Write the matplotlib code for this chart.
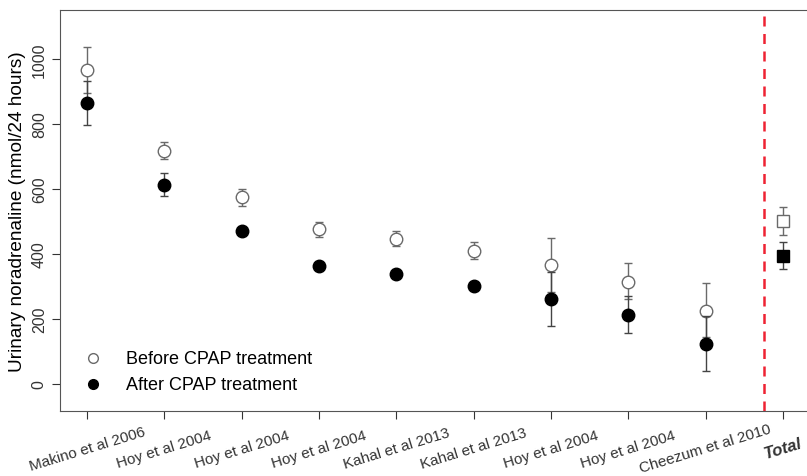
import matplotlib
matplotlib.use("Agg")
import matplotlib.pyplot as plt

plt.rcParams['font.family'] = ['Liberation Sans', 'DejaVu Sans']

# study labels along the x axis
studies = ["Makino et al 2006", "Hoy et al 2004", "Hoy et al 2004", "Hoy et al 2004",
           "Kahal et al 2013", "Kahal et al 2013", "Hoy et al 2004", "Hoy et al 2004",
           "Cheezum et al 2010", "Total"]

# before CPAP: mean, lower, upper (nmol/24 hours)
before_mean = [965, 717, 575, 477, 446, 410, 366, 314, 225, 501]
before_low = [895, 692, 548, 452, 425, 385, 283, 262, 145, 458]
before_high = [1037, 745, 600, 500, 470, 437, 450, 372, 311, 545]

# after CPAP
after_mean = [866, 612, 471, 363, 340, 302, 262, 212, 123, 394]
after_low = [797, 578, 465, 358, 335, 297, 178, 157, 40, 354]
after_high = [932, 649, 478, 368, 345, 307, 346, 271, 209, 437]

fig = plt.figure(figsize=[8.07, 4.77], dpi=100)
ax = fig.add_axes([0.0743, 0.1363, 0.9257, 0.8407])

n = len(studies)
xs = list(range(1, n + 1))
grey = "#6a6a6a"

for i, x in enumerate(xs):
    total = (i == n - 1)
    mk = "s" if total else "o"
    # before: open grey marker
    ax.errorbar(x, before_mean[i],
                yerr=[[before_mean[i] - before_low[i]], [before_high[i] - before_mean[i]]],
                fmt=mk, mfc="white", mec=grey, ms=9 if not total else 8, mew=1.0,
                ecolor=grey, elinewidth=1.0, capsize=3, capthick=1.0, zorder=3)
    # after: filled black marker
    ax.errorbar(x, after_mean[i],
                yerr=[[after_mean[i] - after_low[i]], [after_high[i] - after_mean[i]]],
                fmt=mk, mfc="black", mec="black", ms=9 if not total else 8,
                ecolor="#444444", elinewidth=1.0, capsize=3, capthick=1.0, zorder=4)

# separator between studies and pooled total
ax.axvline(9.76, color="#ee2233", linestyle=(0, (4, 3)), linewidth=1.8)

# legend drawn by hand, R style
ax.plot([1.08], [80], "o", mfc="white", mec=grey, ms=7)
ax.plot([1.08], [0], "o", mfc="black", mec="black", ms=7)
ax.text(1.5, 80, "Before CPAP treatment", fontsize=13, va="center")
ax.text(1.5, 0, "After CPAP treatment", fontsize=13, va="center")

ax.set_xlim(0.65, 10.31)
ax.set_ylim(-83, 1151)
ax.set_yticks([0, 200, 400, 600, 800, 1000])
ax.set_yticklabels(["0", "200", "400", "600", "800", "1000"], rotation=90, va="center", fontsize=11.5)
ax.set_ylabel("Urinary noradrenaline (nmol/24 hours)", fontsize=13.7, labelpad=4)

ax.set_xticks(xs)
# R style rotated labels: centred on the tick, text centre a fixed distance below
labels = ax.set_xticklabels(studies, rotation=17, ha="center", va="center",
                            rotation_mode="anchor", fontsize=11)
labels[-1].set_fontweight("bold")
labels[-1].set_fontstyle("italic")
labels[-1].set_fontsize(12)

for side in ["left", "bottom", "top"]:
    ax.spines[side].set_color("#555555")
ax.spines["right"].set_visible(False)
ax.tick_params(colors="#333333", length=6)
ax.tick_params(axis="x", pad=21)

fig.savefig("out.png", dpi=100)
